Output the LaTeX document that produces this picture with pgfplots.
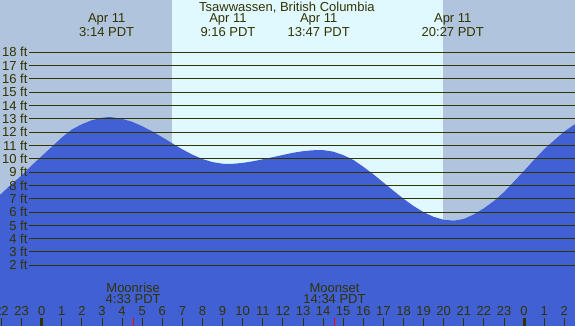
\documentclass[border=0pt]{standalone}
\usepackage{pgfplots}
\usepackage{pgfplotstable}
\pgfplotsset{compat=1.18}
\usepackage{fontspec}
\setmainfont{Liberation Sans}
\definecolor{night}{RGB}{176,196,222}
\definecolor{day}{RGB}{224,248,255}
\definecolor{water}{RGB}{64,96,212}
\definecolor{ink}{RGB}{51,51,0}
\pgfplotstableread{
t h
-2.2 -3
-2.2 7.1
-2.1 7.25
-1.5 8.1
-1.0 8.75
-0.5 9.5
0.0 10.2
0.5 10.9
1.0 11.6
1.5 12.2
2.0 12.6
2.5 12.9
3.0 13.08
3.3 13.13
3.5 13.12
4.0 13.0
4.5 12.78
5.0 12.45
5.5 12.06
6.0 11.62
6.5 11.16
7.0 10.71
7.5 10.31
8.0 9.98
8.5 9.75
9.0 9.63
9.25 9.61
9.5 9.62
10.0 9.69
10.5 9.81
11.0 9.96
11.5 10.12
12.0 10.29
12.5 10.45
13.0 10.57
13.5 10.64
13.85 10.66
14.0 10.65
14.5 10.54
15.0 10.28
15.5 9.92
16.0 9.40
16.5 8.84
17.0 8.22
17.5 7.60
18.0 7.00
18.5 6.45
19.0 5.99
19.5 5.64
20.0 5.42
20.5 5.35
21.0 5.48
21.5 5.82
22.0 6.28
22.5 6.83
23.0 7.50
23.5 8.30
24.0 9.10
24.5 9.93
25.0 10.72
25.5 11.40
26.0 12.05
26.6 12.68
26.7 12.78
26.7 -3
}\tide
\begin{document}
\begin{tikzpicture}[font=\fontsize{13}{15}\selectfont]
\begin{axis}[
  width=575pt, height=326pt, scale only axis,
  xmin=-2.0746, xmax=26.532, ymin=-2.56, ymax=21.93,
  axis lines=none,
]
% day / night background
\addplot[fill=night, draw=none] coordinates {(-2.2,-3) (6.48,-3) (6.48,23) (-2.2,23)} -- cycle;
\addplot[fill=day, draw=none] coordinates {(6.48,-3) (19.97,-3) (19.97,23) (6.48,23)} -- cycle;
\addplot[fill=night, draw=none] coordinates {(19.97,-3) (26.7,-3) (26.7,23) (19.97,23)} -- cycle;
% water
\addplot[fill=water, draw=none] table[x=t, y=h] {\tide} -- cycle;
% level lines and labels
\pgfplotsinvokeforeach{2,...,18}{
  \draw[ink, line width=1pt] (axis cs:-0.632,#1) -- (axis cs:26.7,#1);
  \node[anchor=east, inner sep=0pt, text=ink] at (axis cs:-0.70,#1) {#1 ft};
}
% hour ticks
\pgfplotsinvokeforeach{-2,...,26}{
  \draw[ink, line width=1pt] (axis cs:#1,-2.7) -- (axis cs:#1,-1.96);
}
\draw[ink, line width=3pt] (axis cs:0,-2.7) -- (axis cs:0,-1.96);
\draw[ink, line width=3pt] (axis cs:24,-2.7) -- (axis cs:24,-1.96);
\draw[red, line width=1pt] (axis cs:4.55,-2.7) -- (axis cs:4.55,-1.96);
\draw[red, line width=1pt] (axis cs:14.567,-2.7) -- (axis cs:14.567,-1.96);
% hour labels
\begin{scope}[every node/.style={text=ink, inner sep=0pt}]
\node at (axis cs:-2,-1.43) {22};
\node at (axis cs:-1,-1.43) {23};
\node at (axis cs:0,-1.43) {0};
\node at (axis cs:1,-1.43) {1};
\node at (axis cs:2,-1.43) {2};
\node at (axis cs:3,-1.43) {3};
\node at (axis cs:4,-1.43) {4};
\node at (axis cs:5,-1.43) {5};
\node at (axis cs:6,-1.43) {6};
\node at (axis cs:7,-1.43) {7};
\node at (axis cs:8,-1.43) {8};
\node at (axis cs:9,-1.43) {9};
\node at (axis cs:10,-1.43) {10};
\node at (axis cs:11,-1.43) {11};
\node at (axis cs:12,-1.43) {12};
\node at (axis cs:13,-1.43) {13};
\node at (axis cs:14,-1.43) {14};
\node at (axis cs:15,-1.43) {15};
\node at (axis cs:16,-1.43) {16};
\node at (axis cs:17,-1.43) {17};
\node at (axis cs:18,-1.43) {18};
\node at (axis cs:19,-1.43) {19};
\node at (axis cs:20,-1.43) {20};
\node at (axis cs:21,-1.43) {21};
\node at (axis cs:22,-1.43) {22};
\node at (axis cs:23,-1.43) {23};
\node at (axis cs:24,-1.43) {0};
\node at (axis cs:25,-1.43) {1};
\node at (axis cs:26,-1.43) {2};
% moon
\node at (axis cs:4.55,0.32) {Moonrise};
\node at (axis cs:4.55,-0.55) {4:33 PDT};
\node at (axis cs:14.567,0.32) {Moonset};
\node at (axis cs:14.567,-0.55) {14:34 PDT};
% title and extremes
\node at (axis cs:12.2,21.37) {Tsawwassen, British Columbia};
\node at (axis cs:3.233,20.46) {Apr 11};
\node at (axis cs:3.233,19.54) {3:14 PDT};
\node at (axis cs:9.267,20.46) {Apr 11};
\node at (axis cs:9.267,19.54) {9:16 PDT};
\node at (axis cs:13.783,20.46) {Apr 11};
\node at (axis cs:13.783,19.54) {13:47 PDT};
\node at (axis cs:20.45,20.46) {Apr 11};
\node at (axis cs:20.45,19.54) {20:27 PDT};
\end{scope}
\end{axis}
\end{tikzpicture}
\end{document}
